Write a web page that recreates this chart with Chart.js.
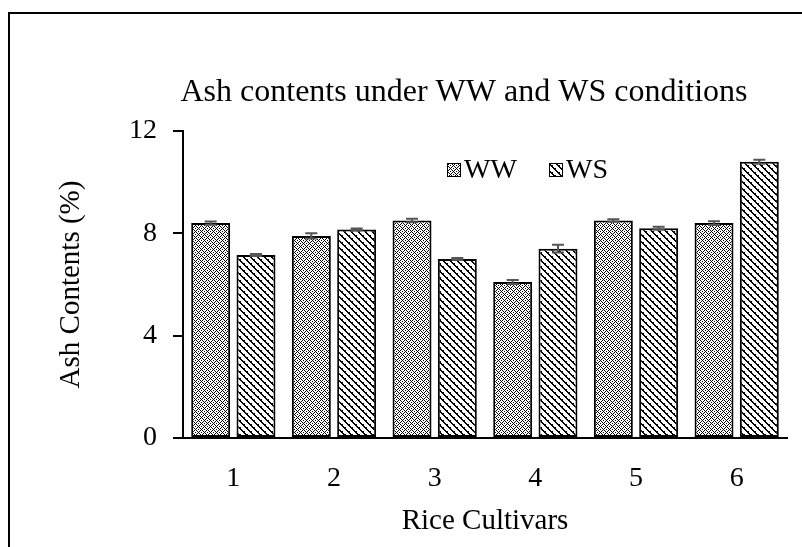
<!DOCTYPE html>
<html>
<head>
<meta charset="utf-8">
<script src="https://cdn.jsdelivr.net/npm/chart.js@4.4.1/dist/chart.umd.min.js"></script>
<style>
  html, body { margin: 0; padding: 0; background: #fff; }
  canvas { display: block; }
</style>
</head>
<body>
<canvas id="ashChart" width="802" height="547"></canvas>
<script>
const categories = ['1', '2', '3', '4', '5', '6'];
const wwValues = [8.4, 7.9, 8.5, 6.1, 8.5, 8.4];
const wsValues = [7.15, 8.15, 7.0, 7.4, 8.2, 10.8];
const wwErrors = [0.06, 0.1, 0.07, 0.08, 0.05, 0.07];
const wsErrors = [0.04, 0.04, 0.04, 0.15, 0.06, 0.08];
const yTicks = [0, 4, 8, 12];

const serif = "'Liberation Serif', 'Times New Roman', serif";

// little pixel tiles for the Excel-ish fills
function makePattern(size, isInk) {
  const c = document.createElement('canvas');
  c.width = size;
  c.height = size;
  const p = c.getContext('2d');
  p.fillStyle = '#fff';
  p.fillRect(0, 0, size, size);
  p.fillStyle = '#000';
  for (let y = 0; y < size; y++) {
    for (let x = 0; x < size; x++) {
      if (isInk(x, y)) p.fillRect(x, y, 1, 1);
    }
  }
  return p.createPattern(c, 'repeat');
}

const wwFill = makePattern(6, (x, y) =>
  (x + y) % 6 === 0 || ((x - y) % 6 + 6) % 6 === 0 || (x % 3 === 0 && y % 3 === 0)
);
const wsFill = makePattern(7, (x, y) => {
  const d = ((x - y) % 7 + 7) % 7;
  return d === 0 || d === 1 || (d === 2 && y % 4 === 0);
});

// error bars drawn on top of the bars
const errorBars = {
  id: 'errorBars',
  afterDatasetsDraw(chart) {
    const ctx = chart.ctx;
    const yScale = chart.scales.y;
    const errs = [wwErrors, wsErrors];
    ctx.save();
    ctx.strokeStyle = '#555';
    ctx.lineWidth = 2;
    chart.data.datasets.forEach((ds, di) => {
      const meta = chart.getDatasetMeta(di);
      meta.data.forEach((bar, i) => {
        const v = ds.data[i];
        const e = errs[di][i];
        const top = yScale.getPixelForValue(v + e);
        const bot = yScale.getPixelForValue(v - e);
        ctx.beginPath();
        ctx.moveTo(bar.x, top);
        ctx.lineTo(bar.x, bot);
        ctx.moveTo(bar.x - 6, top);
        ctx.lineTo(bar.x + 6, top);
        ctx.moveTo(bar.x - 6, bot);
        ctx.lineTo(bar.x + 6, bot);
        ctx.stroke();
      });
    });
    ctx.restore();
  }
};

// title, legend and the outer frame
const decorations = {
  id: 'decorations',
  afterDraw(chart) {
    const ctx = chart.ctx;
    ctx.save();
    ctx.strokeStyle = '#000';
    ctx.lineWidth = 2;
    ctx.strokeRect(9, 13, 900, 900);

    ctx.fillStyle = '#000';
    ctx.font = '32px ' + serif;
    ctx.textAlign = 'center';
    ctx.textBaseline = 'middle';
    ctx.fillText('Ash contents under WW and WS conditions', 464, 93);

    const items = [
      { label: chart.data.datasets[0].label, fill: wwFill, x: 447 },
      { label: chart.data.datasets[1].label, fill: wsFill, x: 549 }
    ];
    ctx.font = '28px ' + serif;
    ctx.textAlign = 'left';
    items.forEach(it => {
      ctx.fillStyle = it.fill;
      ctx.fillRect(it.x, 163, 14, 14);
      ctx.lineWidth = 1;
      ctx.strokeRect(it.x + 0.5, 163.5, 13, 13);
      ctx.fillStyle = '#000';
      ctx.fillText(it.label, it.x + 17, 171);
    });
    ctx.restore();
  }
};

new Chart(document.getElementById('ashChart'), {
  type: 'bar',
  data: {
    labels: categories,
    datasets: [
      {
        label: 'WW',
        data: wwValues,
        backgroundColor: wwFill,
        borderColor: '#000',
        borderWidth: 2,
        borderSkipped: false
      },
      {
        label: 'WS',
        data: wsValues,
        backgroundColor: wsFill,
        borderColor: '#000',
        borderWidth: 2,
        borderSkipped: false
      }
    ]
  },
  options: {
    responsive: false,
    animation: false,
    devicePixelRatio: 1,
    categoryPercentage: 0.9,
    barPercentage: 0.86,
    layout: { padding: { top: 131, right: 15, bottom: 0, left: 0 } },
    plugins: {
      legend: { display: false },
      title: { display: false },
      tooltip: { enabled: false }
    },
    scales: {
      x: {
        afterFit(scale) { scale.height = 109; },
        grid: { display: false, drawTicks: false },
        border: { display: true, color: '#000', width: 2 },
        ticks: { color: '#000', font: { family: serif, size: 28 }, padding: 24 },
        title: {
          display: true,
          text: 'Rice Cultivars',
          color: '#000',
          font: { family: serif, size: 29 },
          padding: { top: 0, bottom: 8 }
        }
      },
      y: {
        min: 0,
        max: 12,
        afterFit(scale) { scale.width = 183; },
        afterBuildTicks(scale) { scale.ticks = yTicks.map(v => ({ value: v })); },
        grid: { drawOnChartArea: false, drawTicks: true, tickLength: 10, color: '#000', lineWidth: 2 },
        border: { display: true, color: '#000', width: 2 },
        ticks: { color: '#000', font: { family: serif, size: 28 }, padding: 16 },
        title: {
          display: true,
          text: 'Ash Contents (%)',
          color: '#000',
          font: { family: serif, size: 29 },
          padding: { top: 54, bottom: 0 }
        }
      }
    }
  },
  plugins: [errorBars, decorations]
});
</script>
</body>
</html>
